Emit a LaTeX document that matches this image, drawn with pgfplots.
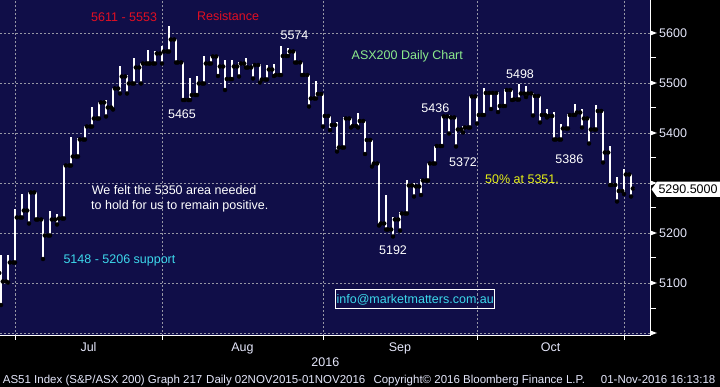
\documentclass[border=0pt]{standalone}
\usepackage{pgfplots}
\pgfplotsset{compat=1.18}
\usepackage{pgfplotstable}
\usepackage{fontspec}
\setmainfont{Liberation Sans}
\definecolor{bbnavy}{RGB}{16,14,72}
\definecolor{gridgray}{RGB}{150,150,165}
\definecolor{bbred}{RGB}{225,15,35}
\definecolor{bbgreen}{RGB}{140,235,140}
\definecolor{bbcyan}{RGB}{60,215,235}
\definecolor{bbyellow}{RGB}{230,240,20}
\definecolor{bbtext}{RGB}{228,230,250}
\newcommand{\fs}[1]{\fontsize{#1}{#1}\selectfont}
\pgfdeclareplotmark{rtri}{%
  \pgfpathmoveto{\pgfqpoint{0pt}{2.6pt}}%
  \pgfpathlineto{\pgfqpoint{7pt}{0pt}}%
  \pgfpathlineto{\pgfqpoint{0pt}{-2.6pt}}%
  \pgfpathclose\pgfusepathqfill}

% ASX200 daily OHLC, 28 Jun 2016 (k=0) to 1 Nov 2016 (k=90)
\pgfplotstableread{
k o h l c
0 5120 5156 5056 5103
1 5103 5156 5101 5141
2 5141 5247 5141 5231
3 5231 5277 5231 5245
4 5245 5281 5219 5281
5 5281 5281 5227 5227
6 5227 5227 5148 5195
7 5195 5244 5195 5227
8 5227 5238 5217 5229
9 5229 5335 5229 5335
10 5335 5392 5335 5353
11 5353 5389 5353 5387
12 5387 5413 5387 5413
13 5413 5451 5413 5429
14 5429 5461 5429 5461
15 5461 5465 5433 5451
16 5451 5489 5447 5489
17 5489 5533 5479 5513
18 5513 5516 5479 5499
19 5499 5549 5499 5531
20 5531 5539 5499 5539
21 5539 5566 5539 5539
22 5539 5563 5539 5559
23 5559 5573 5539 5563
24 5563 5613 5563 5587
25 5587 5587 5541 5541
26 5541 5541 5466 5466
27 5466 5509 5466 5476
28 5476 5513 5476 5499
29 5499 5553 5499 5539
30 5539 5553 5539 5553
31 5553 5553 5514 5533
32 5533 5546 5486 5508
33 5508 5546 5508 5533
34 5533 5541 5513 5539
35 5539 5549 5531 5531
36 5531 5537 5509 5536
37 5536 5537 5501 5507
38 5507 5536 5507 5527
39 5527 5537 5514 5516
40 5516 5574 5516 5554
41 5554 5569 5554 5563
42 5563 5563 5541 5541
43 5541 5541 5516 5516
44 5516 5516 5453 5469
45 5469 5503 5469 5478
46 5478 5478 5413 5434
47 5434 5434 5406 5416
48 5416 5421 5363 5371
49 5371 5431 5371 5429
50 5429 5429 5411 5414
51 5414 5439 5411 5424
52 5424 5424 5358 5386
53 5386 5386 5333 5339
54 5339 5339 5215 5219
55 5219 5276 5207 5207
56 5207 5231 5193 5227
57 5227 5241 5205 5239
58 5239 5306 5239 5295
59 5295 5299 5273 5293
60 5293 5308 5276 5305
61 5305 5339 5305 5339
62 5339 5374 5339 5374
63 5374 5433 5374 5433
64 5433 5436 5399 5431
65 5431 5431 5373 5407
66 5407 5413 5401 5411
67 5411 5473 5411 5473
68 5473 5473 5419 5436
69 5436 5490 5436 5480
70 5480 5482 5448 5480
71 5480 5482 5442 5454
72 5454 5488 5454 5486
73 5486 5486 5466 5467
74 5467 5498 5467 5479
75 5479 5494 5472 5479
76 5479 5479 5435 5474
77 5474 5474 5421 5436
78 5436 5447 5431 5434
79 5434 5441 5387 5387
80 5387 5418 5387 5409
81 5409 5437 5409 5436
82 5436 5458 5436 5441
83 5441 5447 5411 5429
84 5429 5429 5379 5407
85 5407 5456 5407 5444
86 5444 5444 5341 5361
87 5361 5374 5296 5296
88 5296 5311 5263 5284
89 5284 5328 5278 5317
90 5317 5317 5273 5289
}\ohlc

\begin{document}
\begin{tikzpicture}[x=1pt,y=1pt]
\fill[black] (0,0) rectangle (720,-387);
\path[use as bounding box] (0,0) rectangle (720,-387);
\begin{axis}[
  at={(0pt,0pt)}, anchor=north west,
  scale only axis, width=650pt, height=335.5pt,
  xmin=-0.143, xmax=92.71, ymin=4995, ymax=5666,
  clip=false,
  axis background/.style={fill=bbnavy},
  axis x line*=bottom, axis y line*=right,
  axis line style={white, line width=1pt},
  xtick={2,23,46,68,89}, xticklabels={},
  extra x ticks={12.5,34.5,57,78.5},
  extra x tick labels={Jul,Aug,Sep,Oct},
  extra x tick style={major tick length=0pt, grid=none},
  ytick={5000,5100,...,5600},
  yticklabels={,5100,5200,,5400,5500,5600},
  minor y tick num=1,
  tick align=outside,
  major tick length=4pt, minor tick length=6pt,
  tick style={white, line width=1pt},
  xmajorgrids, ymajorgrids,
  major grid style={gridgray, line width=0.8pt, dash pattern=on 2pt off 2pt},
  yticklabel style={font=\fs{12.5}, text=bbtext, anchor=west, inner sep=0pt, xshift=5pt},
  xticklabel style={font=\fs{12.5}, text=bbtext, anchor=base, inner sep=0pt, yshift=-15.5pt},
  /pgf/number format/assume math mode=true,
]
% high-low
\addplot[only marks, mark=none, forget plot,
  error bars/.cd, y dir=plus, y explicit, error mark=none,
  error bar style={white, line width=1.1pt}]
  table[x=k, y=l, y error expr=\thisrow{h}-\thisrow{l}] {\ohlc};
% open ticks
\addplot[only marks, mark=none, forget plot,
  error bars/.cd, x dir=both, x fixed=0.25, error mark=none,
  error bar style={white, line width=1.1pt}]
  table[x expr=\thisrow{k}-0.25, y=o] {\ohlc};
% close ticks
\addplot[only marks, mark=none, forget plot,
  error bars/.cd, x dir=both, x fixed=0.25, error mark=none,
  error bar style={white, line width=1.1pt}]
  table[x expr=\thisrow{k}+0.25, y=c] {\ohlc};
% right-axis tick triangles
\addplot[only marks, mark=rtri, color=white, forget plot]
  coordinates {(92.71,5000)(92.71,5100)(92.71,5200)(92.71,5300)(92.71,5400)(92.71,5500)(92.71,5600)};
\end{axis}

% annotations
\begin{scope}[font=\fs{12.5}, inner sep=0pt]
\node[anchor=base west, text=bbred] at (91,-21.5) {5611 - 5553};
\node[anchor=base west, text=bbred] at (197,-20.8) {Resistance};
\node[anchor=base, text=white] at (294.5,-40) {5574};
\node[anchor=base west, text=bbgreen] at (351.5,-59.3) {ASX200 Daily Chart};
\node[anchor=base, text=white] at (182,-118.3) {5465};
\node[anchor=base, text=white] at (435.3,-112.3) {5436};
\node[anchor=base, text=white] at (463,-166.3) {5372};
\node[anchor=base, text=white] at (520,-78.3) {5498};
\node[anchor=base, text=white] at (569.3,-164) {5386};
\node[anchor=base west, text=bbyellow] at (485,-184) {50\% at 5351.};
\node[anchor=base west, text=white] at (91.7,-194.3) {We felt the 5350 area needed};
\node[anchor=base west, text=white] at (91,-209.3) {to hold for us to remain positive.};
\node[anchor=base west, text=bbcyan] at (63.3,-263.3) {5148 - 5206 support};
\node[anchor=base, text=white] at (393,-255) {5192};
\draw[white, line width=1pt] (335.7,-290) rectangle (494.7,-308.3);
\node[anchor=base, text=bbcyan] at (415.2,-303) {info@marketmatters.com.au};
\node[anchor=base, text=bbtext] at (325.3,-366.7) {2016};
% last price tag
\fill[white] (651.5,-189.3) -- (657,-181.7) -- (720,-181.7) -- (720,-197) -- (657,-197) -- cycle;
\node[anchor=base west, text=black] at (658.3,-194) {5290.5000};
\end{scope}
\begin{scope}[font=\fs{11.5}, inner sep=0pt, text=bbtext]
\node[anchor=base west] at (2.7,-383.3) {AS51 Index (S\&P/ASX 200) Graph 217};
\node[anchor=base west] at (206,-383.3) {Daily 02NOV2015-01NOV2016};
\node[anchor=base west] at (373.3,-383.3) {Copyright© 2016 Bloomberg Finance L.P.};
\node[anchor=base west] at (600.7,-383.3) {01-Nov-2016 16:13:18};
\end{scope}
\end{tikzpicture}
\end{document}
